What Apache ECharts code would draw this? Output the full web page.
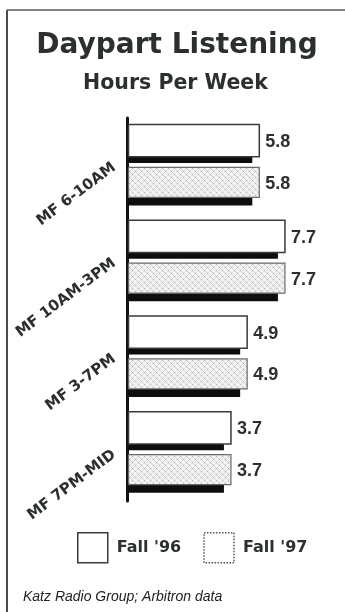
<!DOCTYPE html>
<html>
<head>
<meta charset="utf-8">
<script src="https://cdn.jsdelivr.net/npm/echarts@6/dist/echarts.min.js"></script>
<style>
  html, body { margin: 0; padding: 0; background: #fff; }
  #chart { width: 345px; height: 612px; }
</style>
</head>
<body>
<div id="chart"></div>
<script>
// ---- data ----
const categories = ['MF 6-10AM', 'MF 10AM-3PM', 'MF 3-7PM', 'MF 7PM-MID'];
const seriesNames = ["Fall '96", "Fall '97"];
const fall96 = [5.8, 7.7, 4.9, 3.7];
const fall97 = [5.8, 7.7, 4.9, 3.7];

const INK = '#2b302d';

// dotted texture for Fall '97
function makePattern() {
  const c = document.createElement('canvas');
  c.width = 6; c.height = 6;
  const g = c.getContext('2d');
  g.fillStyle = '#f2f2f2';
  g.fillRect(0, 0, 6, 6);
  [[0,0],[3,3],[1,1],[2,2],[4,4],[5,5],[4,2],[2,4],[5,1],[1,5]].forEach(function (p, i) {
    if (i < 2) { g.fillStyle = '#ababab'; } else if (i < 6) { g.fillStyle = '#d4d4d4'; } else { g.fillStyle = '#dedede'; }
    g.fillRect(p[0], p[1], 1, 1);
  });
  return c;
}
const patternCanvas = makePattern();

function makeRender(sIdx) {
  return function (params, api) {
    const v = api.value(0);
    const cat = api.value(1);
    const end = api.coord([v, cat]);
    const cy = end[1];
    const band = api.size([0, 1])[1];
    const k = band / 95.67;
    const x0 = params.coordSys.x + 1.5;
    let top, bot, shBot;
    if (sIdx === 0) {
      top = cy - 41.4 * k; bot = cy - 9.1 * k; shBot = cy - 2.8 * k;
    } else {
      top = cy + 1.4 * k; bot = cy + 31.5 * k; shBot = cy + 39.5 * k;
    }
    const xe = end[0];
    return {
      type: 'group',
      children: [
        {
          type: 'rect',
          shape: { x: x0, y: bot - 1, width: Math.max(0, xe - 7 - x0), height: shBot - bot + 1 },
          style: { fill: '#0d0d0d' }
        },
        {
          type: 'rect',
          shape: { x: x0, y: top, width: xe - x0, height: bot - top },
          style: sIdx === 0
            ? { fill: '#ffffff', stroke: '#3a3a3a', lineWidth: 1.5 }
            : { fill: { image: patternCanvas, repeat: 'repeat' }, stroke: '#6a6a6a', lineWidth: 1.2 }
        },
        {
          type: 'text',
          x: xe + 6,
          y: (top + bot) / 2 + 1.5,
          style: {
            text: v.toFixed(1),
            fill: INK,
            font: 'bold 18px "Liberation Sans", Arial, sans-serif',
            verticalAlign: 'middle',
            align: 'left'
          }
        }
      ]
    };
  };
}

const chart = echarts.init(document.getElementById('chart'), null, { renderer: 'canvas' });

chart.setOption({
  backgroundColor: '#ffffff',
  animation: false,
  grid: { left: 127, right: 29, top: 118, height: 383, containLabel: false },
  xAxis: {
    type: 'value', min: -4, max: 10, show: false,
    splitLine: { show: false }
  },
  yAxis: {
    type: 'category',
    data: categories,
    inverse: true,
    axisLine: { show: true, onZero: false, lineStyle: { color: '#111', width: 3 } },
    axisTick: { show: false },
    axisLabel: {
      rotate: 37,
      margin: 13,
      color: INK,
      fontFamily: '"DejaVu Sans", sans-serif',
      fontWeight: 'bold',
      fontSize: 15
    }
  },
  legend: {
    left: 77,
    top: 532,
    padding: 0,
    itemWidth: 30,
    itemHeight: 30,
    itemGap: 22,
    textStyle: {
      color: INK,
      fontFamily: '"DejaVu Sans", sans-serif',
      fontWeight: 'bold',
      fontSize: 16,
      padding: [0, 0, 0, 4]
    },
    data: [
      { name: seriesNames[0], icon: 'rect', itemStyle: { color: '#ffffff', borderColor: '#3a3a3a', borderWidth: 1.5 } },
      { name: seriesNames[1], icon: 'rect', itemStyle: { color: '#ffffff', borderColor: '#555', borderWidth: 1.5, borderType: 'dotted' } }
    ]
  },
  graphic: [
    { type: 'line', shape: { x1: 7, y1: 10, x2: 7, y2: 612 }, style: { stroke: '#4a4a4a', lineWidth: 2 } },
    { type: 'line', shape: { x1: 7, y1: 10, x2: 345, y2: 10 }, style: { stroke: '#5a5a5a', lineWidth: 1.5 } },
    {
      type: 'text', x: 177, y: 46,
      style: {
        text: 'Daypart Listening', fill: INK,
        font: 'bold 28px "DejaVu Sans", sans-serif',
        align: 'center', verticalAlign: 'middle'
      }
    },
    {
      type: 'text', x: 175.5, y: 84,
      style: {
        text: 'Hours Per Week', fill: INK,
        font: 'bold 20.5px "DejaVu Sans", sans-serif',
        align: 'center', verticalAlign: 'middle'
      }
    },
    {
      type: 'text', x: 23, y: 597,
      style: {
        text: 'Katz Radio Group; Arbitron data', fill: '#222',
        font: 'italic 14px "Liberation Sans", Arial, sans-serif',
        align: 'left', verticalAlign: 'middle'
      }
    }
  ],
  series: [
    {
      name: seriesNames[0], type: 'custom',
      encode: { x: 0, y: 1 },
      itemStyle: { color: '#ffffff', borderColor: '#3a3a3a' },
      data: fall96.map(function (v, i) { return [v, i]; }),
      renderItem: makeRender(0)
    },
    {
      name: seriesNames[1], type: 'custom',
      encode: { x: 0, y: 1 },
      itemStyle: { color: '#e8e8e8', borderColor: '#555' },
      data: fall97.map(function (v, i) { return [v, i]; }),
      renderItem: makeRender(1)
    }
  ]
});
</script>
</body>
</html>
